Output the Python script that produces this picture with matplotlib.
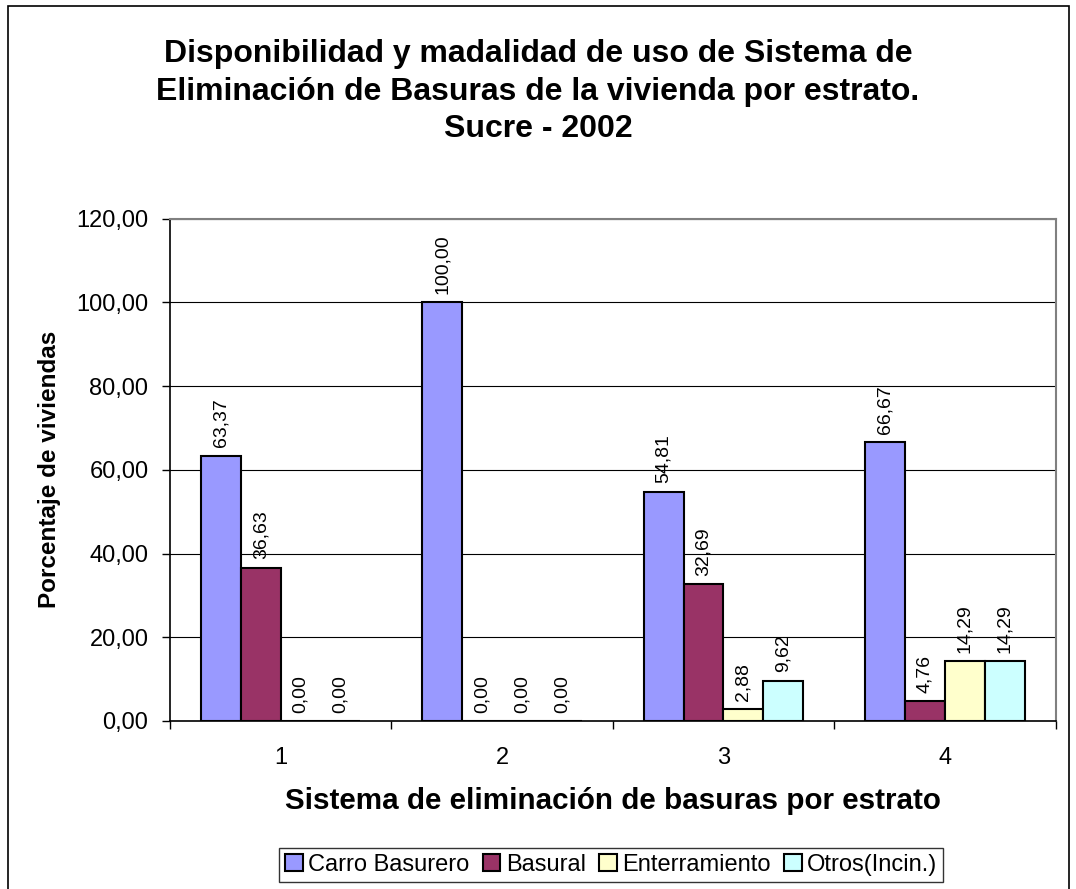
import numpy as np
import matplotlib.pyplot as plt
from matplotlib.patches import Rectangle
from matplotlib.ticker import FixedLocator, FixedFormatter

plt.rcParams['font.family'] = ['Liberation Sans', 'DejaVu Sans']

estratos = ['1', '2', '3', '4']
series = ['Carro Basurero', 'Basural', 'Enterramiento', 'Otros(Incin.)']
carro = [63.37, 100.00, 54.81, 66.67]
basural = [36.63, 0.00, 32.69, 4.76]
enterramiento = [0.00, 0.00, 2.88, 14.29]
otros = [0.00, 0.00, 9.62, 14.29]
colores = ['#9999FF', '#993366', '#FFFFCC', '#CCFFFF']

W, H = 1076, 889
fig = plt.figure(figsize=(W / 100, H / 100), dpi=100)
ax = fig.add_axes([0.158, 0.189, 0.823, 0.565])

# outer chart border
fig.patches.append(Rectangle((8 / W, -0.01), 1061 / W, 1.01 - 6 / H,
                             transform=fig.transFigure, fill=False,
                             edgecolor='black', linewidth=1.2))

x = np.arange(len(estratos))
w = 0.18
for i, (vals, name) in enumerate(zip([carro, basural, enterramiento, otros], series)):
    pos = x + (i - 1.5) * w
    ax.bar(pos, vals, w, color=colores[i], edgecolor='black', linewidth=1.5,
           label=name, zorder=3)
    for p, v in zip(pos, vals):
        ax.text(p, v + 2.0, ('%.2f' % v).replace('.', ','), rotation=90,
                ha='center', va='bottom', fontsize=14)

ax.set_xlim(-0.5, 3.5)
ax.set_ylim(0, 120)
yt = np.arange(0, 121, 20)
ax.set_yticks(yt)
ax.set_yticklabels([('%.2f' % t).replace('.', ',') for t in yt])
ax.yaxis.grid(True, color='black', linewidth=0.8, zorder=0)
ax.set_axisbelow(True)

ax.xaxis.set_major_locator(FixedLocator([-0.5, 0.5, 1.5, 2.5, 3.5]))
ax.xaxis.set_major_formatter(FixedFormatter([''] * 5))
ax.xaxis.set_minor_locator(FixedLocator(x))
ax.xaxis.set_minor_formatter(FixedFormatter(estratos))
ax.tick_params(axis='x', which='minor', length=0, labelsize=17, pad=19)
ax.tick_params(axis='x', which='major', length=6, width=1, direction='out')
ax.tick_params(axis='y', length=6, width=1, direction='out', labelsize=17, pad=9.5)

for s in ['left', 'bottom']:
    ax.spines[s].set_color('black')
    ax.spines[s].set_linewidth(1.2)
for s in ['top', 'right']:
    ax.spines[s].set_color('#808080')
    ax.spines[s].set_linewidth(1.5)

ax.set_xlabel('Sistema de eliminación de basuras por estrato', fontsize=21.3,
              fontweight='bold', labelpad=13)
ax.set_ylabel('Porcentaje de viviendas', fontsize=17.5, fontweight='bold', labelpad=11)

fig.text(0.5, 0.897, 'Disponibilidad y madalidad de uso de Sistema de\n'
         'Eliminación de Basuras de la vivienda por estrato.\nSucre - 2002',
         ha='center', va='center', fontsize=23, fontweight='bold', linespacing=1.32)

fig.legend(loc='upper center', bbox_to_anchor=(0.568, 1 - 848 / H), ncol=4,
           fontsize=17, frameon=True, fancybox=False, edgecolor='black',
           handlelength=0.75, handleheight=0.75, handletextpad=0.22,
           columnspacing=0.57, borderpad=0.25, borderaxespad=0)

fig.savefig('out.png', dpi=100)
